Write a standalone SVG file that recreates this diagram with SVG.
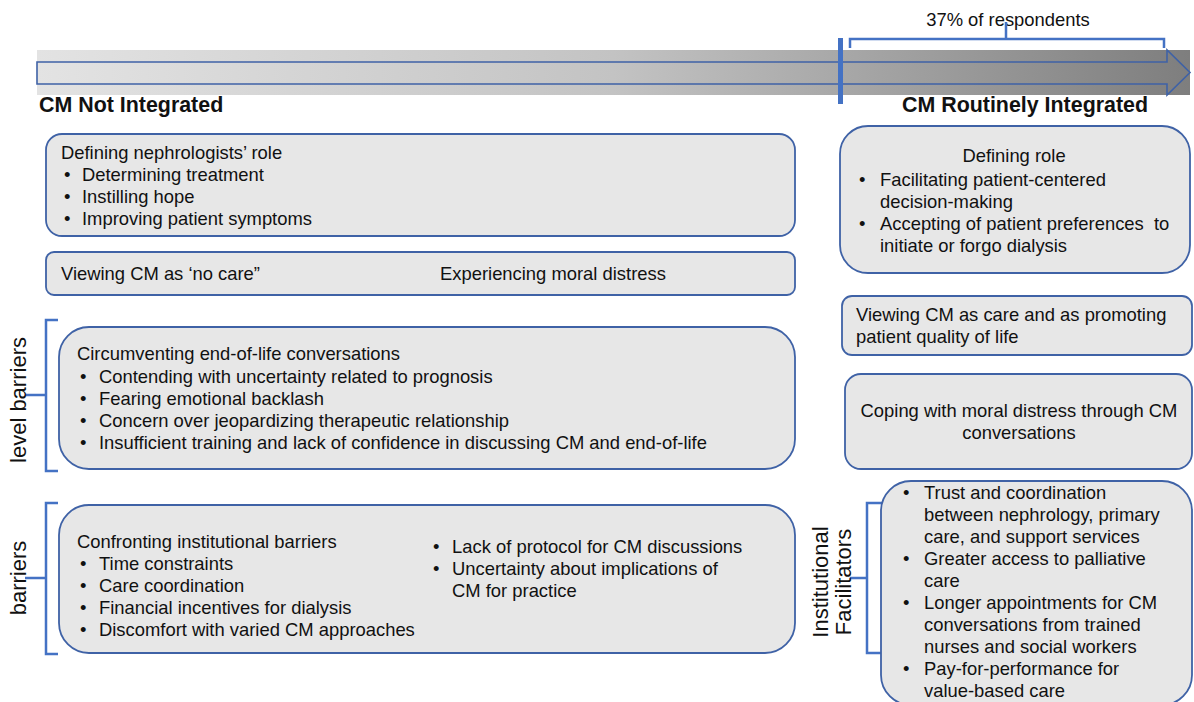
<svg xmlns="http://www.w3.org/2000/svg" width="1194" height="702" viewBox="0 0 1194 702">
<defs>
<linearGradient id="band" x1="0" y1="0" x2="1" y2="0">
<stop offset="0" stop-color="#e3e3e3"/>
<stop offset="0.5" stop-color="#c3c3c3"/>
<stop offset="1" stop-color="#7e7e7e"/>
</linearGradient>
<style>
.box{fill:#e7e7e7;stroke:#3f62a6;stroke-width:1.8}
.t{font-family:"Liberation Sans",Arial,sans-serif;font-size:18.4px;fill:#111}
.h{font-family:"Liberation Sans",Arial,sans-serif;font-size:21.4px;font-weight:bold;fill:#111}
.r{font-family:"Liberation Sans",Arial,sans-serif;font-size:22px;fill:#111;text-anchor:middle}
.br{fill:none;stroke:#4472c4;stroke-width:2.5}
.c{text-anchor:middle}
</style>
</defs>
<rect width="1194" height="702" fill="#ffffff"/>
<g id="timeline">
<rect x="37" y="50" width="1153" height="45" fill="url(#band)"/>
<path d="M37,62 H1167 V50 L1190,72.5 L1167,95 V84 H37 Z" fill="none" stroke="#3f62a6" stroke-width="1.6"/>
<rect x="838" y="38" width="5" height="66" fill="#4472c4"/>
<text class="t c" x="1008" y="26">37% of respondents</text>
<text class="h" x="39" y="112">CM Not Integrated</text>
<text class="h" x="902" y="112">CM Routinely Integrated</text>
</g>
<g id="connectors">
<path class="br" d="M850,48 V39 H1164 V48 M1006,39 V22" stroke-width="2"/>
<path class="br" d="M58,320 H46 V471 H58 M46,395 H25"/>
<path class="br" d="M58,503 H46 V654 H58 M46,578 H25"/>
<path class="br" d="M882,503 H867 V653 H882 M867,578 H850"/>
</g>
<g id="label-individual">
<text class="r" transform="translate(26,400) rotate(-90)">level barriers</text>
</g>
<g id="label-institutional">
<text class="r" transform="translate(26,578) rotate(-90)">barriers</text>
</g>
<g id="label-facilitators">
<text class="r" transform="translate(828,582) rotate(-90)">Institutional</text>
<text class="r" transform="translate(851,582) rotate(-90)">Facilitators</text>
</g>
<g id="box-role">
<rect class="box" x="46" y="134" width="749" height="102" rx="16"/>
<text class="t" x="61" y="159">Defining nephrologists’ role</text>
<text class="t" x="64" y="181">•</text><text class="t" x="82" y="181">Determining treatment</text>
<text class="t" x="64" y="203">•</text><text class="t" x="82" y="203">Instilling hope</text>
<text class="t" x="64" y="225">•</text><text class="t" x="82" y="225">Improving patient symptoms</text>
</g>
<g id="box-nocare">
<rect class="box" x="46" y="252" width="749" height="43" rx="8"/>
<text class="t" x="61" y="280">Viewing CM as ‘no care”</text>
<text class="t" x="440" y="280">Experiencing moral distress</text>
</g>
<g id="box-circumventing">
<rect class="box" x="59" y="327" width="736" height="142" rx="30"/>
<text class="t" x="77" y="360">Circumventing end-of-life conversations</text>
<text class="t" x="80" y="383">•</text><text class="t" x="99" y="383">Contending with uncertainty related to prognosis</text>
<text class="t" x="80" y="405">•</text><text class="t" x="99" y="405">Fearing emotional backlash</text>
<text class="t" x="80" y="427">•</text><text class="t" x="99" y="427">Concern over jeopardizing therapeutic relationship</text>
<text class="t" x="80" y="449">•</text><text class="t" x="99" y="449">Insufficient training and lack of confidence in discussing CM and end-of-life</text>
</g>
<g id="box-institutional">
<rect class="box" x="59" y="505" width="736" height="148" rx="30"/>
<text class="t" x="77" y="548">Confronting institutional barriers</text>
<text class="t" x="80" y="570">•</text><text class="t" x="99" y="570">Time constraints</text>
<text class="t" x="80" y="592">•</text><text class="t" x="99" y="592">Care coordination</text>
<text class="t" x="80" y="614">•</text><text class="t" x="99" y="614">Financial incentives for dialysis</text>
<text class="t" x="80" y="636">•</text><text class="t" x="99" y="636">Discomfort with varied CM approaches</text>
<text class="t" x="433" y="553">•</text><text class="t" x="452" y="553">Lack of protocol for CM discussions</text>
<text class="t" x="433" y="575">•</text><text class="t" x="452" y="575">Uncertainty about implications of</text>
<text class="t" x="452" y="597">CM for practice</text>
</g>
<g id="box-defining-role">
<rect class="box" x="840" y="126" width="350" height="147" rx="28"/>
<text class="t c" x="1014" y="162">Defining role</text>
<text class="t" x="859" y="186">•</text><text class="t" x="880" y="186">Facilitating patient-centered</text>
<text class="t" x="880" y="208">decision-making</text>
<text class="t" x="859" y="230">•</text><text class="t" x="880" y="230" xml:space="preserve">Accepting of patient preferences  to</text>
<text class="t" x="880" y="252">initiate or forgo dialysis</text>
</g>
<g id="box-care">
<rect class="box" x="842" y="296" width="350" height="59" rx="10"/>
<text class="t" x="856" y="321">Viewing CM as care and as promoting</text>
<text class="t" x="856" y="343">patient quality of life</text>
</g>
<g id="box-coping">
<rect class="box" x="845" y="374" width="347" height="95" rx="16"/>
<text class="t c" x="1019" y="417">Coping with moral distress through CM</text>
<text class="t c" x="1019" y="439">conversations</text>
</g>
<g id="box-facilitators">
<rect class="box" x="881" y="481" width="311" height="224" rx="30"/>
<text class="t" x="903" y="499">•</text><text class="t" x="924" y="499">Trust and coordination</text>
<text class="t" x="924" y="521">between nephrology, primary</text>
<text class="t" x="924" y="543">care, and support services</text>
<text class="t" x="903" y="565">•</text><text class="t" x="924" y="565">Greater access to palliative</text>
<text class="t" x="924" y="587">care</text>
<text class="t" x="903" y="609">•</text><text class="t" x="924" y="609">Longer appointments for CM</text>
<text class="t" x="924" y="631">conversations from trained</text>
<text class="t" x="924" y="653">nurses and social workers</text>
<text class="t" x="903" y="675">•</text><text class="t" x="924" y="675">Pay-for-performance for</text>
<text class="t" x="924" y="697">value-based care</text>
</g>
</svg>
